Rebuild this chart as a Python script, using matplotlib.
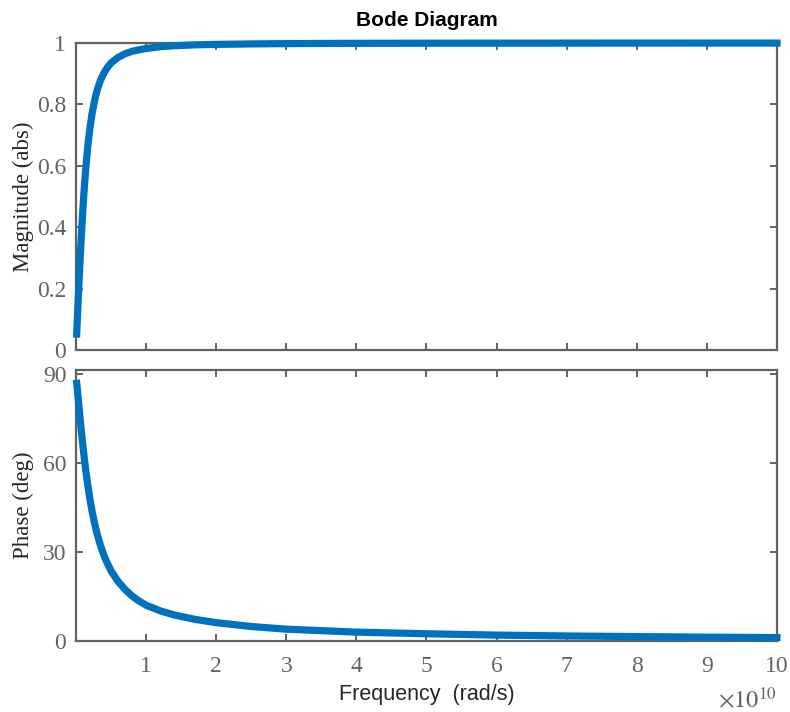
import matplotlib
matplotlib.use('Agg')
import matplotlib.pyplot as plt

# frequency in units of 1e10 rad/s
freq = [0.01, 0.015, 0.02, 0.03, 0.04, 0.05, 0.06, 0.08, 0.1, 0.12, 0.14,
        0.17, 0.2, 0.23, 0.27, 0.3, 0.35, 0.4, 0.45, 0.5, 0.6, 0.7, 0.8, 0.9,
        1.0, 1.2, 1.4, 1.7, 2, 2.5, 3, 3.5, 4, 5, 6, 7, 8, 9, 10]
mag = [0.052, 0.079, 0.105, 0.156, 0.206, 0.254, 0.301, 0.388, 0.466, 0.534,
       0.593, 0.667, 0.725, 0.771, 0.818, 0.845, 0.879, 0.903, 0.921, 0.935,
       0.953, 0.965, 0.973, 0.978, 0.982, 0.988, 0.991, 0.994, 0.9955, 0.997,
       0.998, 0.9985, 0.9989, 0.9993, 0.9995, 0.9996, 0.9997, 0.9998, 0.9998]
phase = [87.0, 86.0, 84.8, 82.2, 79.7, 77.2, 74.7, 70.0, 65.6, 61.4, 57.5,
         52.3, 47.7, 43.7, 39.2, 36.3, 32.2, 28.8, 26.1, 23.7, 20.1, 17.4,
         15.2, 13.5, 12.1, 10.2, 8.8, 7.3, 6.2, 4.9, 4.0, 3.5, 3.0, 2.45, 2.0,
         1.7, 1.5, 1.3, 1.15]

x_ticks = [1, 2, 3, 4, 5, 6, 7, 8, 9, 10]
mag_ticks = [0, 0.2, 0.4, 0.6, 0.8, 1]
mag_labels = ['0', '0.2', '0.4', '0.6', '0.8', '1']
phase_ticks = [0, 30, 60, 90]

line_color = '#0072BD'
axis_color = '#636363'
serif = 'Liberation Serif'
sans = 'Liberation Sans'

fig = plt.figure(figsize=(7.9, 7.12), dpi=100)
ax1 = fig.add_axes([0.0962, 0.5084, 0.8873, 0.4312])
ax2 = fig.add_axes([0.0962, 0.0997, 0.8873, 0.3806])

ax1.plot(freq, mag, color=line_color, lw=5.2, clip_on=False, zorder=3)
ax2.plot(freq, phase, color=line_color, lw=5.2, clip_on=False, zorder=3)

for ax in (ax1, ax2):
    ax.set_xlim(0, 10)
    ax.set_xticks(x_ticks)
    for s in ax.spines.values():
        s.set_color(axis_color)
        s.set_linewidth(1.6)
    ax.tick_params(direction='in', length=5, width=1.4, color=axis_color,
                   top=True, right=True, labelcolor=axis_color, labelsize=17)

ax1.set_ylim(0, 1)
ax1.set_yticks(mag_ticks)
ax1.set_yticklabels(mag_labels, family=serif)
ax1.tick_params(labelbottom=False, pad=7)
ax1.set_ylabel('Magnitude (abs)', family=serif, fontsize=16.5, labelpad=2,
               color='#262626')
ax1.set_title('Bode Diagram', family=sans, fontweight='bold', fontsize=15,
              pad=12)

ax2.set_ylim(0, 91.5)
ax2.set_yticks(phase_ticks)
ax2.set_yticklabels([str(t) for t in phase_ticks], family=serif)
ax2.set_xticklabels([str(t) for t in x_ticks], family=serif)
ax2.tick_params(axis='x', pad=11)
ax2.tick_params(axis='y', pad=7)
ax2.set_ylabel('Phase (deg)', family=serif, fontsize=16.5, labelpad=6,
               color='#262626')
ax2.set_xlabel('Frequency  (rad/s)', family=sans, fontsize=15.5, labelpad=5,
               color='#262626')
ax2.text(1.0, -0.17, r'$\times10^{10}$', transform=ax2.transAxes,
         ha='right', va='top', fontsize=17.5, color=axis_color,
         math_fontfamily='stix')

fig.savefig('out.png', dpi=100)
